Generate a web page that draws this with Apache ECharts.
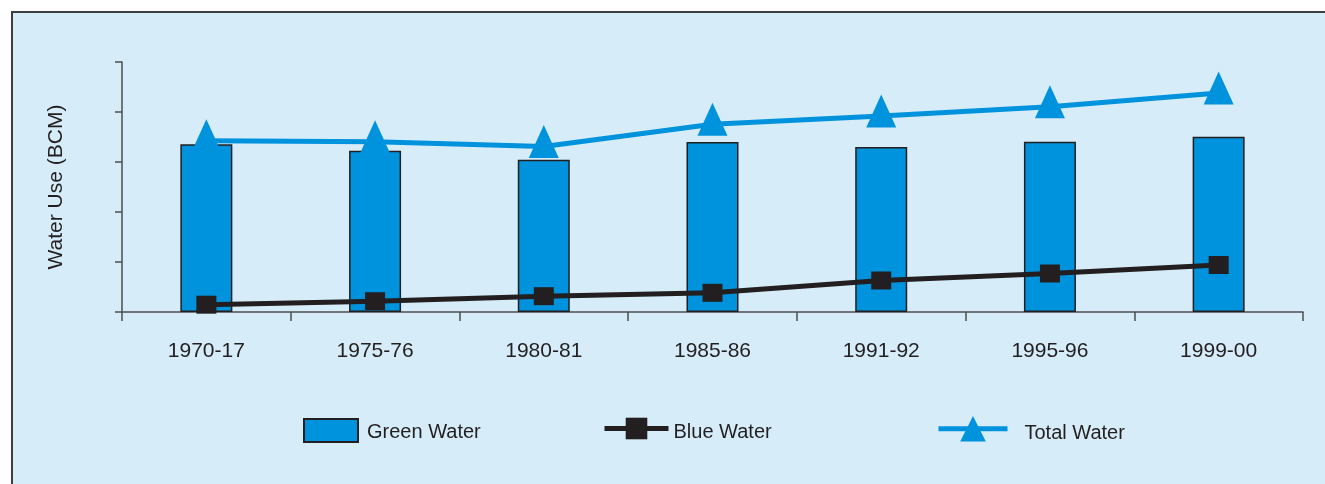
<!DOCTYPE html>
<html>
<head>
<meta charset="utf-8">
<title>Water Use (BCM)</title>
<script src="https://cdn.jsdelivr.net/npm/echarts@6/dist/echarts.min.js"></script>
<style>
  html, body { margin: 0; padding: 0; background: #ffffff; }
  #panel {
    position: absolute; left: 11px; top: 11px; right: 0; bottom: 0;
    background: #d6ecf9;
    border-top: 2px solid #3f3f40;
    border-left: 2px solid #3f3f40;
  }
  #chart { position: absolute; left: 0; top: 0; width: 1325px; height: 484px; }
</style>
</head>
<body>
<div id="panel"></div>
<div id="chart"></div>
<script>
// Periods on the x axis
const periods = ['1970-17', '1975-76', '1980-81', '1985-86', '1991-92', '1995-96', '1999-00'];

// Water use per period (BCM, unlabelled axis units)
const greenWater = [167.7, 161.3, 152.3, 170.0, 165.0, 170.3, 175.3];
const blueWater  = [7.3, 10.8, 15.8, 19.2, 31.5, 38.5, 47.0];
const totalWater = [171.3, 170.3, 165.5, 187.7, 196.0, 205.3, 219.0];

// Value axis extent
const yMin = 0;
const yMax = 250;
const yStep = 50;

const FONT = '"Liberation Sans", Arial, Helvetica, sans-serif';
const INK = '#231f20';
const AXIS = '#4d4d4f';
const BLUE = '#0093dd';

const chart = echarts.init(document.getElementById('chart'), null, { renderer: 'canvas' });

// Legend label: a thin spacer line above the name drops the name a few
// pixels below the centre of its icon.
function legendLabel(drop, gapLeft) {
  return {
    formatter: '{s| }\n{t|{name}}',
    textStyle: {
      fontFamily: FONT, fontSize: 20, color: INK,
      rich: {
        s: { fontSize: 1, lineHeight: drop * 2 },
        t: { fontFamily: FONT, fontSize: 20, color: INK, lineHeight: 22, padding: [0, 0, 0, gapLeft] }
      }
    }
  };
}

chart.setOption({
  animation: false,
  backgroundColor: 'transparent',
  textStyle: { fontFamily: FONT, color: INK },
  grid: { left: 122, right: 22, top: 62, bottom: 172, containLabel: false },
  legend: [
    Object.assign({
      data: [{ name: 'Green Water', icon: 'rect' }], left: 303, top: 418, padding: 0,
      itemWidth: 54, itemHeight: 23, selectedMode: false
    }, legendLabel(2, 4)),
    Object.assign({
      data: ['Blue Water'], left: 602, top: 417, padding: 0,
      itemWidth: 64, itemHeight: 27, selectedMode: false,
      lineStyle: { width: 5 }
    }, legendLabel(4, 0)),
    Object.assign({
      data: ['Total Water'], left: 936, top: 416, padding: 0,
      itemWidth: 69, itemHeight: 32, selectedMode: false,
      lineStyle: { width: 5 }
    }, legendLabel(5, 12))
  ],
  xAxis: {
    type: 'category',
    data: periods,
    boundaryGap: true,
    axisLine: { show: true, lineStyle: { color: AXIS, width: 1.5 } },
    axisTick: { show: true, length: 9, lineStyle: { color: AXIS, width: 1.5 } },
    axisLabel: { fontSize: 21, color: INK, margin: 29, fontFamily: FONT },
    splitLine: { show: false }
  },
  yAxis: {
    type: 'value',
    min: yMin, max: yMax, interval: yStep,
    name: 'Water Use (BCM)',
    nameLocation: 'middle',
    nameGap: 55,
    nameRotate: 90,
    nameTextStyle: { fontSize: 21, color: INK, fontFamily: FONT },
    axisLine: { show: true, lineStyle: { color: AXIS, width: 1.5 } },
    axisTick: { show: true, length: 7, lineStyle: { color: AXIS, width: 1.5 } },
    axisLabel: { show: false },
    splitLine: { show: false }
  },
  series: [
    {
      name: 'Green Water',
      type: 'bar',
      data: greenWater,
      barWidth: 52,
      itemStyle: { color: BLUE, borderColor: INK, borderWidth: 1.5 },
      z: 2
    },
    {
      name: 'Total Water',
      type: 'line',
      data: totalWater,
      symbol: 'triangle',
      symbolSize: [30, 33],
      symbolOffset: [0, -5],
      showAllSymbol: true,
      lineStyle: { color: BLUE, width: 5 },
      itemStyle: { color: BLUE },
      z: 3
    },
    {
      name: 'Blue Water',
      type: 'line',
      data: blueWater,
      symbol: 'rect',
      symbolSize: [20, 18],
      showAllSymbol: true,
      lineStyle: { color: INK, width: 5 },
      itemStyle: { color: INK },
      z: 4
    }
  ]
});
</script>
</body>
</html>
